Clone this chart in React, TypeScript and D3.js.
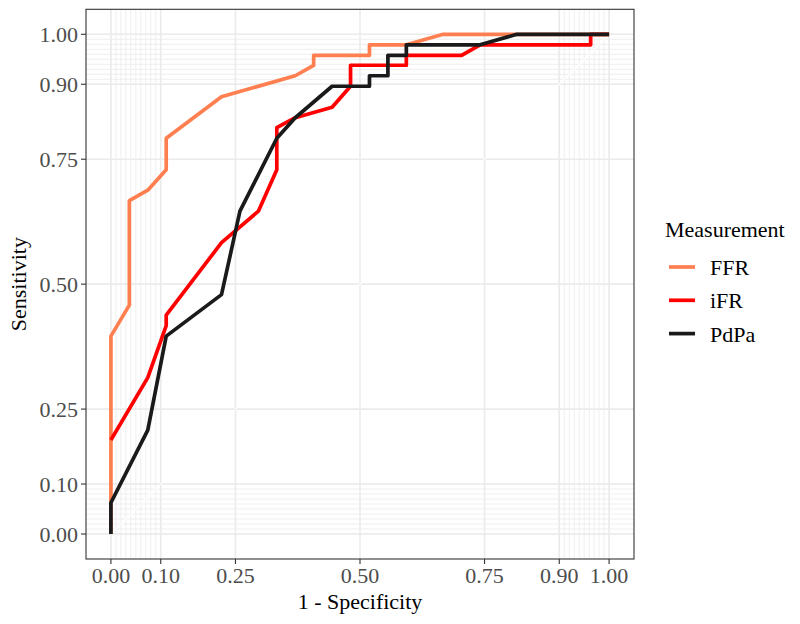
import * as d3 from "d3";
import React from "react";

// ROC curves
const ffrFpr = [0, 0, 0.037, 0.037, 0.074, 0.111, 0.111, 0.222, 0.37, 0.407, 0.407, 0.519, 0.519, 0.593, 0.667, 1];
const ffrTpr = [0, 0.396, 0.458, 0.667, 0.688, 0.729, 0.792, 0.875, 0.917, 0.938, 0.958, 0.958, 0.979, 0.979, 1, 1];

const ifrFpr = [0, 0.074, 0.111, 0.111, 0.222, 0.296, 0.333, 0.333, 0.37, 0.444, 0.481, 0.481, 0.593, 0.593, 0.704, 0.741, 0.963, 0.963, 1];
const ifrTpr = [0.188, 0.313, 0.417, 0.438, 0.583, 0.646, 0.729, 0.813, 0.833, 0.854, 0.896, 0.938, 0.938, 0.958, 0.958, 0.979, 0.979, 1, 1];

const pdpaFpr = [0, 0, 0.074, 0.111, 0.222, 0.259, 0.333, 0.37, 0.444, 0.519, 0.519, 0.556, 0.556, 0.593, 0.593, 0.741, 0.815, 1];
const pdpaTpr = [0, 0.0625, 0.208, 0.396, 0.479, 0.646, 0.792, 0.833, 0.896, 0.896, 0.917, 0.917, 0.958, 0.958, 0.979, 0.979, 1, 1];

const seriesNames = ["FFR", "iFR", "PdPa"];
const seriesColors = ["#FF7F50", "#FF0000", "#1A1A1A"];

const majorBreaks = [0, 0.1, 0.25, 0.5, 0.75, 0.9, 1];
const majorLabels = ["0.00", "0.10", "0.25", "0.50", "0.75", "0.90", "1.00"];
const minorBreaks = [...d3.range(0, 11).map((i) => i / 100), ...d3.range(90, 101).map((i) => i / 100)];

const W = 800;
const H = 624;
const panel = { left: 86, right: 634, top: 9.3, bottom: 559 };
const font = "'Liberation Serif', 'Times New Roman', serif";

export default function App() {
  const x = d3.scaleLinear().domain([-0.05, 1.05]).range([panel.left, panel.right]);
  const y = d3.scaleLinear().domain([-0.05, 1.05]).range([panel.bottom, panel.top]);

  const curves = [
    d3.zip(ffrFpr, ffrTpr),
    d3.zip(ifrFpr, ifrTpr),
    d3.zip(pdpaFpr, pdpaTpr),
  ];
  const line = d3
    .line<number[]>()
    .x((d) => x(d[0]))
    .y((d) => y(d[1]));

  const grid = "#EBEBEB";

  return (
    <svg width={W} height={H} style={{ position: "absolute", left: 0, top: 0, background: "#fff" }} fontFamily={font}>
      <rect x={panel.left} y={panel.top} width={panel.right - panel.left} height={panel.bottom - panel.top} fill="#fff" />
      {/* minor grid */}
      {minorBreaks.map((b, i) => (
        <g key={"mn" + i}>
          <line x1={x(b)} x2={x(b)} y1={panel.top} y2={panel.bottom} stroke={grid} strokeWidth={0.8} />
          <line x1={panel.left} x2={panel.right} y1={y(b)} y2={y(b)} stroke={grid} strokeWidth={0.8} />
        </g>
      ))}
      {/* major grid */}
      {majorBreaks.map((b, i) => (
        <g key={"mj" + i}>
          <line x1={x(b)} x2={x(b)} y1={panel.top} y2={panel.bottom} stroke={grid} strokeWidth={1.6} />
          <line x1={panel.left} x2={panel.right} y1={y(b)} y2={y(b)} stroke={grid} strokeWidth={1.6} />
        </g>
      ))}
      {/* guide diagonal */}
      <line x1={x(0)} y1={y(0)} x2={x(1)} y2={y(1)} stroke="#fff" strokeWidth={1.1} />
      {curves.map((c, i) => (
        <path
          key={seriesNames[i]}
          d={line(c) ?? ""}
          fill="none"
          stroke={seriesColors[i]}
          strokeWidth={3.7}
          strokeLinejoin="round"
        />
      ))}
      <rect
        x={panel.left}
        y={panel.top}
        width={panel.right - panel.left}
        height={panel.bottom - panel.top}
        fill="none"
        stroke="#333333"
        strokeWidth={1.1}
      />
      {/* x axis */}
      {majorBreaks.map((b, i) => (
        <g key={"xt" + i}>
          <line x1={x(b)} x2={x(b)} y1={panel.bottom} y2={panel.bottom + 5} stroke="#333333" strokeWidth={1.1} />
          <text x={x(b)} y={583} textAnchor="middle" fontSize={22} fill="#4D4D4D">
            {majorLabels[i]}
          </text>
        </g>
      ))}
      {/* y axis */}
      {majorBreaks.map((b, i) => (
        <g key={"yt" + i}>
          <line x1={panel.left - 5} x2={panel.left} y1={y(b)} y2={y(b)} stroke="#333333" strokeWidth={1.1} />
          <text x={78} y={y(b) + 7.5} textAnchor="end" fontSize={22} fill="#4D4D4D">
            {majorLabels[i]}
          </text>
        </g>
      ))}
      <text x={(panel.left + panel.right) / 2} y={609} textAnchor="middle" fontSize={22} fill="#000">
        1 - Specificity
      </text>
      <text
        transform={`translate(26,${(panel.top + panel.bottom) / 2}) rotate(-90)`}
        textAnchor="middle"
        fontSize={22}
        fill="#000"
      >
        Sensitivity
      </text>
      {/* legend */}
      <text x={665} y={237} fontSize={22} fill="#000">
        Measurement
      </text>
      {seriesNames.map((name, i) => (
        <g key={"lg" + name} transform={`translate(0,${267 + i * 33.3})`}>
          <line x1={669} x2={695} y1={0} y2={0} stroke={seriesColors[i]} strokeWidth={3.7} />
          <text x={710} y={8} fontSize={22} fill="#000">
            {name}
          </text>
        </g>
      ))}
    </svg>
  );
}
